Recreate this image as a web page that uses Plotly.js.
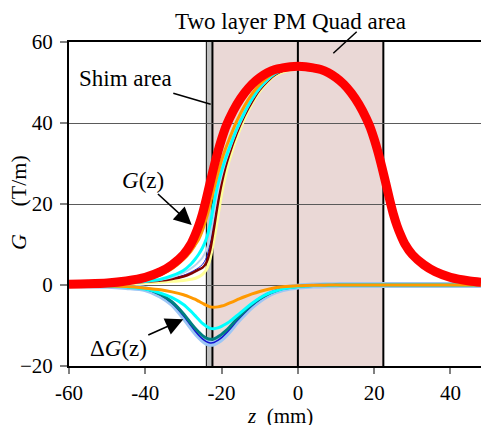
<!DOCTYPE html>
<html>
<head>
<meta charset="utf-8">
<script src="https://cdn.plot.ly/plotly-3.0.1.min.js"></script>
<style>html,body{margin:0;padding:0;background:#fff;}#chart{width:481px;height:425px;}</style>
</head>
<body>
<div id="chart"></div>
<script>
// z positions (mm)
const zAll = [-60,-55,-50,-45,-40,-36,-33,-30,-28,-27,-26,-25,-24,-23,-22,-21,-20,-19,-18,-16,-14,-12,-10,-8,-6,-4,-2,0,
              2,4,6,8,10,12,14,16,18,19,20,21,22,23,24,25,26,27,28,30,33,36,40,45,48];
const zLeft = [-60,-55,-50,-45,-40,-36,-33,-30,-28,-27,-26,-25,-24,-23,-22,-21,-20,-19,-18,-16,-14,-12,-10,-8,-6,-4,-2,0];

// G(z) reference (thick red)
const gRed = [0.2,0.3,0.5,1.0,1.9,3.3,5.0,7.5,10.2,12.2,14.6,17.6,21.3,25.3,29.2,32.8,36.0,38.8,41.0,44.6,47.4,49.6,51.2,52.4,53.2,53.6,53.9,54.0,
              53.9,53.6,53.2,52.4,51.2,49.6,47.4,44.6,41.0,38.8,36.0,32.8,29.2,25.3,21.3,17.6,14.6,12.2,10.2,7.5,5.0,3.3,1.9,1.0,0.7];

// G(z) variants (left side; they run under the red curve elsewhere)
const gOrange = [0.2,0.2,0.3,0.6,1.3,2.5,4.0,6.3,8.4,9.8,11.3,13.5,16.5,20.0,23.8,27.5,30.8,33.6,36.0,40.5,44.2,47.2,49.5,51.2,52.5,53.2,53.7,53.9];
const gCyan   = [0.2,0.2,0.3,0.5,0.9,1.4,2.3,3.6,5.2,6.3,7.6,9.2,11.4,15.0,20.3,24.8,28.3,31.2,33.8,38.6,42.6,46.0,48.7,50.7,52.2,53.1,53.6,53.8];
const gLtBlue = [0.2,0.2,0.3,0.5,0.85,1.3,1.9,3.0,4.1,4.8,5.7,6.8,8.6,12.0,17.6,22.9,27.0,30.4,33.2,38.2,42.3,45.8,48.5,50.5,52.1,53.0,53.5,53.7];
const gBlue   = [0.1,0.2,0.3,0.5,0.8,1.2,1.7,2.4,3.2,3.7,4.3,5.1,6.7,10.1,15.6,21.4,26.1,29.8,32.9,38.0,42.2,45.6,48.4,50.4,52.0,53.0,53.5,53.7];
const gMaroon = [0.1,0.2,0.3,0.5,0.8,1.1,1.5,2.1,2.8,3.3,3.8,4.3,5.5,8.6,14.0,20.0,25.0,29.0,32.2,37.5,41.8,45.3,48.2,50.3,51.9,52.9,53.5,53.7];
const gYellow = [0.1,0.1,0.2,0.3,0.5,0.7,0.9,1.1,1.4,1.6,2.0,2.6,3.8,6.6,11.2,16.7,22.5,27.0,30.8,36.5,41.0,44.8,47.8,50.0,51.7,52.6,53.1,53.4];

// ΔG(z) curves
const dLtBlue = [0,-0.1,-0.2,-0.5,-1.0,-2.6,-4.6,-7.8,-10.3,-11.5,-12.6,-13.5,-14.2,-14.5,-14.4,-13.9,-13.2,-12.3,-11.3,-9.0,-7.0,-5.2,-3.7,-2.5,-1.6,-1.0,-0.6,-0.4,
                 -0.25,-0.15,-0.1,-0.07,-0.05,0,0,0,0,0,0,0,0,0,0,0,0,0,0,0,0,0,0,0,0];
const dBlue   = [0,-0.1,-0.2,-0.5,-1.0,-2.5,-4.5,-7.6,-10.1,-11.3,-12.4,-13.3,-14.0,-14.3,-14.2,-13.7,-13.0,-12.1,-11.1,-8.9,-6.9,-5.1,-3.6,-2.4,-1.6,-1.0,-0.6,-0.4,
                 -0.25,-0.15,-0.1,-0.07,-0.05,0,0,0,0,0,0,0,0,0,0,0,0,0,0,0,0,0,0,0,0];
const dTeal   = [0,-0.1,-0.2,-0.4,-0.9,-2.3,-4.2,-7.1,-9.5,-10.6,-11.6,-12.5,-13.1,-13.4,-13.3,-12.8,-12.2,-11.4,-10.5,-8.4,-6.5,-4.8,-3.4,-2.3,-1.5,-0.9,-0.55,-0.35,
                 -0.2,-0.12,-0.08,-0.05,-0.03,0,0,0,0,0,0,0,0,0,0,0,0,0,0,0,0,0,0,0,0];
const dCyan   = [0,-0.1,-0.2,-0.5,-1.0,-2.0,-3.1,-4.8,-6.5,-7.5,-8.5,-9.5,-10.2,-10.7,-10.8,-10.6,-10.2,-9.7,-9.1,-7.6,-6.0,-4.5,-3.2,-2.2,-1.5,-0.95,-0.6,-0.4,
                 -0.25,-0.15,-0.1,-0.07,-0.05,0,0,0,0,0,0,0,0,0,0,0,0,0,0,0,0,0,0,0,0];
const dOrange = [0,-0.1,-0.2,-0.4,-0.8,-1.2,-1.7,-2.4,-3.1,-3.5,-4.0,-4.5,-5.0,-5.4,-5.5,-5.4,-5.2,-4.9,-4.5,-3.7,-2.9,-2.2,-1.6,-1.1,-0.7,-0.45,-0.3,-0.2,
                 -0.12,-0.08,-0.05,-0.03,-0.02,0,0,0,0,0,0,0,0,0,0,0,0,0,0,0,0,0,0,0,0];

// region boundaries (mm)
const quadEdges = [-22.4, 22.4];
const shimEdges = [-24.0, -22.4];
const xTicks = [-60,-40,-20,0,20,40];

function line(x, y, color, width) {
  return {x: x, y: y, type: 'scatter', mode: 'lines', line: {color: color, width: width, shape: 'spline', smoothing: 0.8}, hoverinfo: 'skip', showlegend: false};
}

const traces = [
  line(zAll, dLtBlue, '#9cc6f5', 6),
  line(zAll, dBlue, '#1010d0', 1.5),
  line(zAll, dTeal, '#008080', 3),
  line(zAll, dCyan, '#00ffff', 3),
  line(zAll, dOrange, '#ff9900', 3),
  line(zLeft, gYellow, '#ffff99', 3),
  line(zLeft, gBlue, '#1010d0', 1),
  line(zLeft, gMaroon, '#800000', 2.5),
  line(zLeft, gLtBlue, '#b8d4f0', 2),
  line(zLeft, gCyan, '#00ffff', 3),
  line(zLeft, gOrange, '#ff9900', 3),
  line(zAll, gRed, '#ff0000', 9)
];

// pixel -> paper helpers for decorations
const L = 69, T = 42, W = 412, H = 324;
const px = v => (v - L) / W;
const py = v => (T + H - v) / H;

const SERIF = 'Liberation Serif';
function f(size) { return {family: SERIF, size: size, color: '#000'}; }

const shapes = [
  {type: 'rect', xref: 'x', yref: 'y', x0: quadEdges[0], x1: quadEdges[1], y0: -20, y1: 60, fillcolor: '#ead8d6', line: {width: 0}, layer: 'below'},
  {type: 'rect', xref: 'x', yref: 'y', x0: shimEdges[0], x1: shimEdges[1], y0: -20, y1: 60, fillcolor: '#c0c0c0', line: {width: 0}, layer: 'below'},
  {type: 'line', xref: 'x', yref: 'y', x0: shimEdges[0], x1: shimEdges[0], y0: -20, y1: 60, line: {color: '#000', width: 1}, layer: 'below'},
  {type: 'line', xref: 'x', yref: 'y', x0: shimEdges[1], x1: shimEdges[1], y0: -20, y1: 60, line: {color: '#000', width: 2}, layer: 'below'},
  {type: 'line', xref: 'x', yref: 'y', x0: 0, x1: 0, y0: -20, y1: 60, line: {color: '#000', width: 2}, layer: 'below'},
  {type: 'line', xref: 'x', yref: 'y', x0: quadEdges[1], x1: quadEdges[1], y0: -20, y1: 60, line: {color: '#000', width: 2}, layer: 'below'},
  {type: 'line', xref: 'paper', yref: 'paper', x0: px(356.7), y0: py(31.7), x1: px(333.3), y1: py(53.3), line: {color: '#000', width: 1.5}},
  {type: 'line', xref: 'paper', yref: 'paper', x0: px(173.3), y0: py(93.3), x1: px(210.7), y1: py(104.3), line: {color: '#000', width: 1.5}}
];

const annotations = [
  {xref: 'paper', yref: 'paper', x: px(290), y: py(22), text: 'Two layer PM Quad area', showarrow: false, xanchor: 'center', yanchor: 'middle', font: f(23)},
  {xref: 'paper', yref: 'paper', x: px(125), y: py(79), text: 'Shim area', showarrow: false, xanchor: 'center', yanchor: 'middle', font: f(23)},
  {xref: 'paper', yref: 'paper', x: px(191.7), y: py(225), ax: -49, ay: -45, axref: 'pixel', ayref: 'pixel', text: '<i>G</i>(z)', showarrow: true, arrowhead: 2, arrowsize: 2.2, arrowwidth: 1.6, arrowcolor: '#000', font: f(23)},
  {xref: 'paper', yref: 'paper', x: px(183.3), y: py(319.3), ax: -65, ay: 29, axref: 'pixel', ayref: 'pixel', text: 'Δ<i>G</i>(z)', showarrow: true, arrowhead: 2, arrowsize: 2.2, arrowwidth: 1.6, arrowcolor: '#000', font: f(23)},
  {xref: 'paper', yref: 'paper', x: px(280), y: py(416), text: '<i>z</i>&nbsp;&nbsp;(mm)', showarrow: false, xanchor: 'center', yanchor: 'middle', font: f(21)},
  {xref: 'paper', yref: 'paper', x: px(18), y: py(203), text: '<i>G</i>&nbsp;&nbsp;&nbsp;&nbsp;&nbsp;(T/m)', textangle: -90, showarrow: false, xanchor: 'center', yanchor: 'middle', font: f(22)}
];

const layout = {
  width: 481, height: 425,
  margin: {l: L, r: 0, t: T, b: 425 - T - H, pad: 0},
  paper_bgcolor: '#fff', plot_bgcolor: '#fff',
  showlegend: false,
  font: f(21),
  xaxis: {range: [-60, 48], tickvals: xTicks, ticktext: xTicks.map(String), ticks: 'outside', ticklen: 6, tickwidth: 2, tickcolor: '#808080',
          showgrid: false, zeroline: false, showline: true, linecolor: '#000', linewidth: 2, mirror: true,
          ticklabelstandoff: 1, tickfont: f(21), fixedrange: true},
  yaxis: {range: [-20, 60], dtick: 20, ticks: 'outside', ticklen: 7, tickwidth: 2, tickcolor: '#808080',
          showgrid: true, gridcolor: '#5a5a5a', gridwidth: 1, zeroline: false, showline: true, linecolor: '#000', linewidth: 2,
          ticklabelstandoff: 3, tickfont: f(21), fixedrange: true},
  shapes: shapes,
  annotations: annotations
};

Plotly.newPlot('chart', traces, layout, {staticPlot: true, displayModeBar: false});
</script>
</body>
</html>
